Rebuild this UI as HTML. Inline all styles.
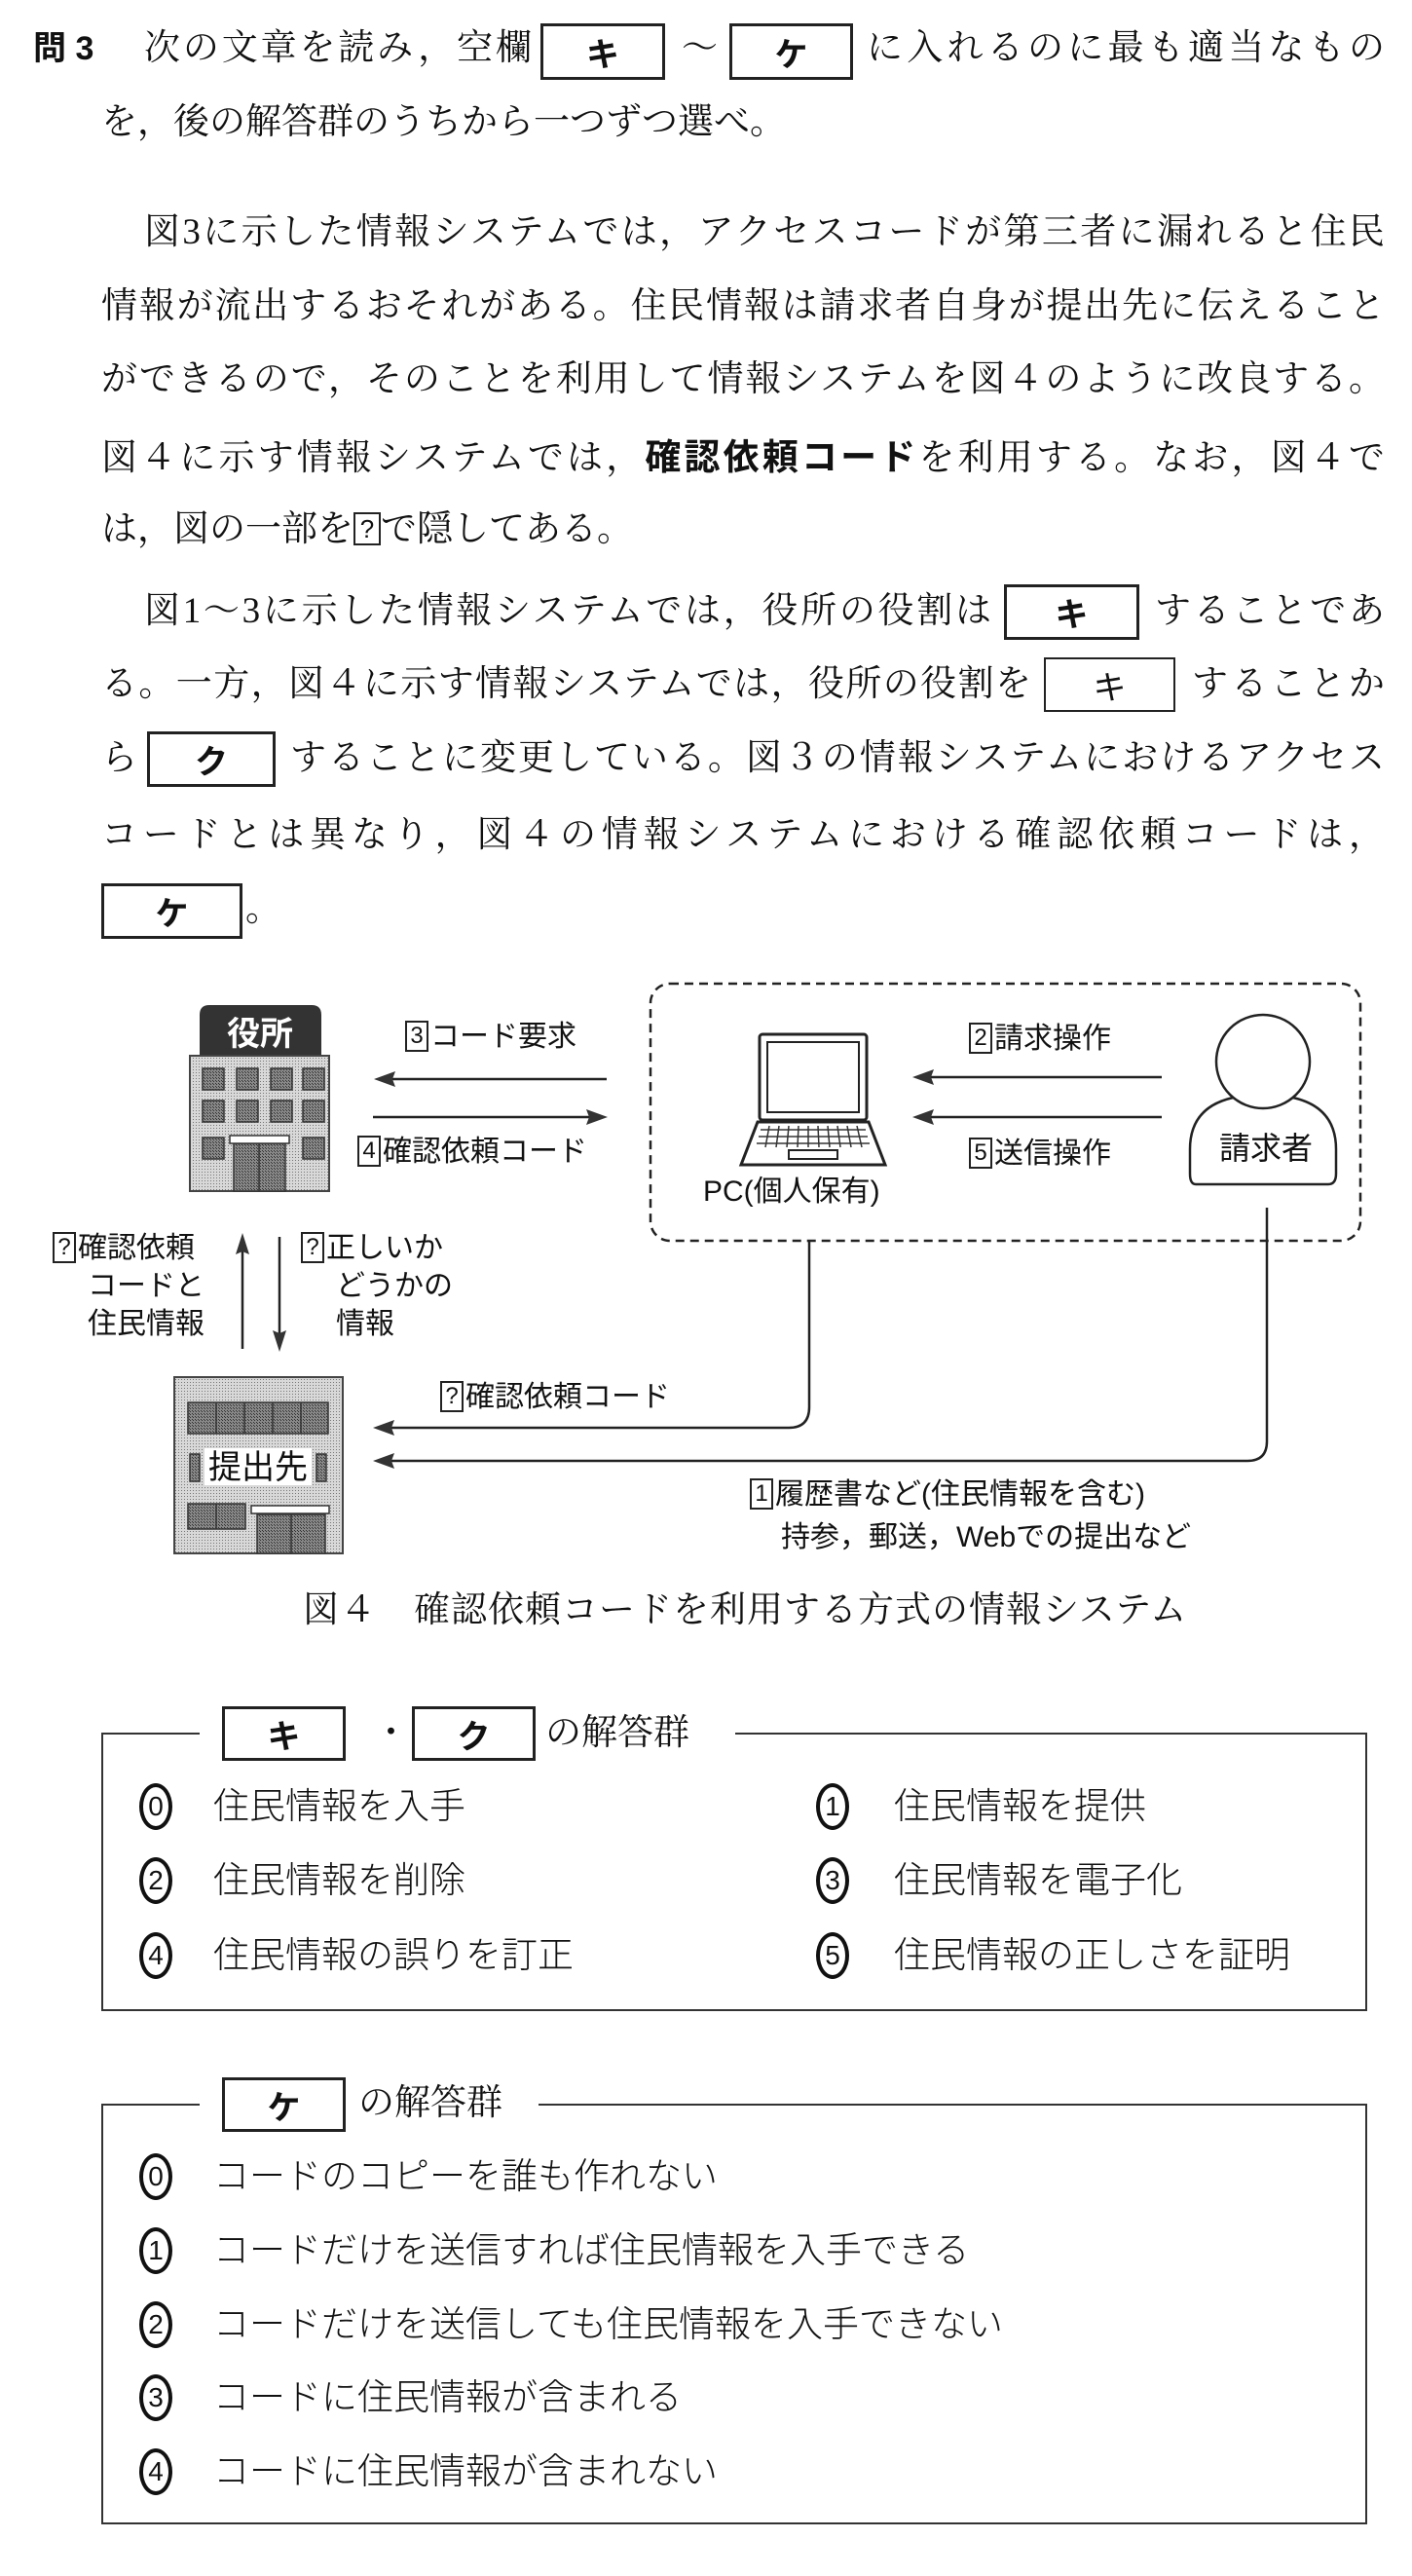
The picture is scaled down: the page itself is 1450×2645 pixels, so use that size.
<!DOCTYPE html>
<html><head><meta charset="utf-8">
<style>
html,body{margin:0;padding:0;background:#fff;}
body{width:1450px;height:2645px;position:relative;overflow:hidden;color:#111;}
.t{position:absolute;font-family:"Liberation Serif","Noto Serif CJK SC",serif;font-size:37px;line-height:44px;white-space:nowrap;}
.j{position:absolute;font-family:"Liberation Serif","Noto Serif CJK SC",serif;font-size:37px;line-height:44px;text-align:justify;text-align-last:justify;height:44px;overflow:visible;}
.g{position:absolute;font-family:"Liberation Sans","Noto Sans CJK JP",sans-serif;font-size:30px;line-height:36px;white-space:nowrap;color:#111;}
.box{position:absolute;border:3px solid #222;box-sizing:border-box;font-family:"Liberation Sans","Noto Sans CJK JP",sans-serif;font-weight:bold;font-size:34px;display:flex;align-items:center;justify-content:center;}
.thin{border-width:2px;font-weight:normal;}
.n{display:inline-block;border:2px solid #222;font-size:24px;line-height:28px;width:20px;text-align:center;margin-right:2px;vertical-align:3px;}
.c{position:absolute;width:34px;height:48px;border:4px solid #111;border-radius:50%;box-sizing:border-box;font-family:"Liberation Sans",sans-serif;font-size:28px;display:flex;align-items:center;justify-content:center;margin-top:-2px;}
.a{position:absolute;font-family:"Liberation Sans","Noto Sans CJK JP",sans-serif;font-size:37px;line-height:44px;white-space:nowrap;font-weight:300;}
</style></head><body>

<div class="t" style="left:34px;top:28px;font-family:'Liberation Sans','Noto Sans CJK JP',sans-serif;font-weight:bold;font-size:34px;">問 3</div>
<div class="j" style="left:148px;top:28px;width:398px;">次の文章を読み，空欄</div>
<div class="box" style="left:555px;top:24px;width:128px;height:58px;">キ</div>
<div class="t" style="left:700px;top:28px;">～</div>
<div class="box" style="left:749px;top:24px;width:127px;height:58px;">ケ</div>
<div class="j" style="left:890px;top:28px;width:532px;">に入れるのに最も適当なもの</div>
<div class="t" style="left:104px;top:104px;">を，後の解答群のうちから一つずつ選べ。</div>

<div class="j" style="left:148px;top:217px;width:1274px;">図3に示した情報システムでは，アクセスコードが第三者に漏れると住民</div>
<div class="j" style="left:104px;top:293px;width:1318px;">情報が流出するおそれがある。住民情報は請求者自身が提出先に伝えること</div>
<div class="j" style="left:104px;top:368px;width:1318px;">ができるので，そのことを利用して情報システムを図４のように改良する。</div>
<div class="j" style="left:104px;top:448px;width:1318px;">図４に示す情報システムでは，<b style="font-family:'Liberation Sans','Noto Sans CJK JP',sans-serif;">確認依頼コード</b>を利用する。なお，図４で</div>
<div class="t" style="left:104px;top:522px;">は，図の一部を<span style="display:inline-block;border:2px solid #222;font-size:26px;line-height:30px;width:24px;text-align:center;vertical-align:3px;font-family:'Liberation Sans',sans-serif;">?</span>で隠してある。</div>

<div class="j" style="left:148px;top:606px;width:870px;">図1～3に示した情報システムでは，役所の役割は</div>
<div class="box" style="left:1031px;top:600px;width:139px;height:57px;">キ</div>
<div class="j" style="left:1186px;top:606px;width:236px;">することであ</div>
<div class="j" style="left:104px;top:681px;width:955px;">る。一方，図４に示す情報システムでは，役所の役割を</div>
<div class="box thin" style="left:1072px;top:675px;width:135px;height:56px;">キ</div>
<div class="j" style="left:1224px;top:681px;width:198px;">することか</div>
<div class="t" style="left:104px;top:757px;">ら</div>
<div class="box" style="left:151px;top:751px;width:132px;height:57px;">ク</div>
<div class="j" style="left:298px;top:757px;width:1124px;">することに変更している。図３の情報システムにおけるアクセス</div>
<div class="j" style="left:104px;top:836px;width:1318px;">コードとは異なり，図４の情報システムにおける確認依頼コードは，</div>
<div class="box" style="left:104px;top:907px;width:145px;height:57px;">ケ</div>
<div class="t" style="left:252px;top:912px;">。</div>

<svg style="position:absolute;left:0;top:0" width="1450" height="2645">
<defs>
<pattern id="dot" width="3" height="3" patternUnits="userSpaceOnUse"><rect width="3" height="3" fill="#d8d8d8"/><rect width="1" height="1" fill="#777"/></pattern>
<pattern id="dk" width="3" height="3" patternUnits="userSpaceOnUse"><rect width="3" height="3" fill="#888"/><rect width="1" height="1" fill="#333"/><rect x="2" y="2" width="1" height="1" fill="#333"/></pattern>
</defs>
<rect x="668" y="1010" width="729" height="264" rx="20" fill="none" stroke="#222" stroke-width="2.5" stroke-dasharray="9,6"/>
<path d="M205,1085 V1042 Q205,1032 215,1032 H320 Q330,1032 330,1042 V1085 Z" fill="#333"/>
<rect x="195" y="1084" width="143" height="139" fill="url(#dot)" stroke="#444" stroke-width="2"/>
<g fill="url(#dk)" stroke="#333" stroke-width="1.5">
<rect x="208" y="1097" width="22" height="22"/><rect x="243" y="1097" width="22" height="22"/><rect x="278" y="1097" width="22" height="22"/><rect x="311" y="1097" width="22" height="22"/>
<rect x="208" y="1130" width="22" height="22"/><rect x="243" y="1130" width="22" height="22"/><rect x="278" y="1130" width="22" height="22"/><rect x="311" y="1130" width="22" height="22"/>
<rect x="208" y="1168" width="22" height="22"/><rect x="311" y="1168" width="22" height="22"/>
<rect x="240" y="1174" width="53" height="49"/><line x1="266" y1="1174" x2="266" y2="1223"/>
</g>
<rect x="236" y="1166" width="61" height="8" fill="#fff" stroke="#333" stroke-width="1.5"/>
<text x="267" y="1073" text-anchor="middle" font-family="Liberation Sans,Noto Sans CJK JP,sans-serif" font-size="34" font-weight="bold" fill="#fff">役所</text>
<rect x="179" y="1414" width="173" height="181" fill="url(#dot)" stroke="#444" stroke-width="2"/>
<g fill="url(#dk)" stroke="#333" stroke-width="1.5">
<rect x="193" y="1440" width="144" height="32"/>
<line x1="222" y1="1440" x2="222" y2="1472"/><line x1="251" y1="1440" x2="251" y2="1472"/><line x1="280" y1="1440" x2="280" y2="1472"/><line x1="309" y1="1440" x2="309" y2="1472"/>
<rect x="195" y="1493" width="10" height="28"/><rect x="325" y="1493" width="10" height="28"/>
<rect x="193" y="1544" width="59" height="26"/><line x1="222" y1="1544" x2="222" y2="1570"/>
<rect x="264" y="1555" width="70" height="40"/><line x1="299" y1="1555" x2="299" y2="1595"/>
</g>
<rect x="210" y="1487" width="110" height="38" fill="#fff"/>
<rect x="258" y="1546" width="80" height="8" fill="#fff" stroke="#333" stroke-width="1.5"/>
<text x="265" y="1518" text-anchor="middle" font-family="Liberation Sans,Noto Sans CJK JP,sans-serif" font-size="34" fill="#111">提出先</text>
<rect x="780" y="1062" width="110" height="88" rx="3" fill="#fff" stroke="#222" stroke-width="3"/>
<rect x="788" y="1070" width="94" height="72" fill="#fff" stroke="#222" stroke-width="2"/>
<path d="M778,1152 H892 L909,1196 H761 Z" fill="#fff" stroke="#222" stroke-width="3"/>
<g stroke="#333" stroke-width="1.5">
<line x1="781" y1="1160" x2="889" y2="1160"/><line x1="779" y1="1167" x2="891" y2="1167"/><line x1="777" y1="1174" x2="893" y2="1174"/>
<line x1="790" y1="1156" x2="786" y2="1178"/><line x1="800" y1="1156" x2="797" y2="1178"/><line x1="810" y1="1156" x2="808" y2="1178"/><line x1="820" y1="1156" x2="819" y2="1178"/><line x1="830" y1="1156" x2="830" y2="1178"/><line x1="840" y1="1156" x2="841" y2="1178"/><line x1="850" y1="1156" x2="852" y2="1178"/><line x1="860" y1="1156" x2="863" y2="1178"/><line x1="870" y1="1156" x2="874" y2="1178"/><line x1="880" y1="1156" x2="885" y2="1178"/>
</g>
<rect x="810" y="1181" width="50" height="9" fill="#fff" stroke="#222" stroke-width="2"/>
<path d="M1228,1216 Q1222,1216 1222,1205 V1180 Q1222,1124 1297,1124 Q1372,1124 1372,1180 V1205 Q1372,1216 1364,1216 Z" fill="#fff" stroke="#222" stroke-width="2.5"/>
<circle cx="1297" cy="1090" r="48" fill="#fff" stroke="#222" stroke-width="2.5"/>
<g stroke="#222" stroke-width="2.5" fill="none">
<line x1="623" y1="1108" x2="400" y2="1108"/>
<line x1="383" y1="1147" x2="606" y2="1147"/>
<line x1="1193" y1="1106" x2="955" y2="1106"/>
<line x1="1193" y1="1147" x2="955" y2="1147"/>
<line x1="249" y1="1385" x2="249" y2="1285"/>
<line x1="287" y1="1270" x2="287" y2="1370"/>
<path d="M831,1274 V1445 Q831,1466 810,1466 H398"/>
<path d="M1301,1240 V1480 Q1301,1500 1281,1500 H398"/>
</g>
<g fill="#333">
<path d="M384,1108 L406,1100 L403,1108 L406,1116 Z"/>
<path d="M624,1147 L602,1139 L605,1147 L602,1155 Z"/>
<path d="M937,1106 L959,1098 L956,1106 L959,1114 Z"/>
<path d="M937,1147 L959,1139 L956,1147 L959,1155 Z"/>
<path d="M249,1266 L242,1288 L249,1285 L256,1288 Z"/>
<path d="M287,1388 L280,1366 L287,1369 L294,1366 Z"/>
<path d="M383,1466 L405,1458 L402,1466 L405,1474 Z"/>
<path d="M383,1500 L405,1492 L402,1500 L405,1508 Z"/>
</g>
</svg>

<div class="g" style="left:416px;top:1047px;"><span class="n">3</span>コード要求</div>
<div class="g" style="left:367px;top:1165px;"><span class="n">4</span>確認依頼コード</div>
<div class="g" style="left:995px;top:1049px;"><span class="n">2</span>請求操作</div>
<div class="g" style="left:995px;top:1167px;"><span class="n">5</span>送信操作</div>
<div class="g" style="left:1252px;top:1161px;font-size:32px;">請求者</div>
<div class="g" style="left:722px;top:1206px;">PC(個人保有)</div>
<div class="g" style="left:54px;top:1264px;"><span class="n">?</span>確認依頼</div>
<div class="g" style="left:90px;top:1303px;">コードと</div>
<div class="g" style="left:90px;top:1342px;">住民情報</div>
<div class="g" style="left:309px;top:1264px;"><span class="n">?</span>正しいか</div>
<div class="g" style="left:345px;top:1303px;">どうかの</div>
<div class="g" style="left:345px;top:1342px;">情報</div>
<div class="g" style="left:452px;top:1417px;"><span class="n">?</span>確認依頼コード</div>
<div class="g" style="left:770px;top:1517px;"><span class="n">1</span>履歴書など(住民情報を含む)</div>
<div class="g" style="left:802px;top:1561px;">持参，郵送，Webでの提出など</div>
<div class="t" style="left:311px;top:1632px;letter-spacing:1px;">図４　確認依頼コードを利用する方式の情報システム</div>

<div style="position:absolute;left:104px;top:1779px;width:1300px;height:286px;border:2px solid #333;box-sizing:border-box;"></div>
<div style="position:absolute;left:205px;top:1770px;width:550px;height:20px;background:#fff;"></div>
<div class="box" style="left:228px;top:1752px;width:127px;height:56px;">キ</div>
<div class="t" style="left:383px;top:1758px;">・</div>
<div class="box" style="left:423px;top:1752px;width:127px;height:56px;">ク</div>
<div class="t" style="left:560px;top:1758px;">の解答群</div>
<div class="c" style="left:143px;top:1833px;">0</div><div class="a" style="left:219px;top:1833px;">住民情報を入手</div>
<div class="c" style="left:838px;top:1833px;">1</div><div class="a" style="left:918px;top:1833px;">住民情報を提供</div>
<div class="c" style="left:143px;top:1909px;">2</div><div class="a" style="left:219px;top:1909px;">住民情報を削除</div>
<div class="c" style="left:838px;top:1909px;">3</div><div class="a" style="left:918px;top:1909px;">住民情報を電子化</div>
<div class="c" style="left:143px;top:1986px;">4</div><div class="a" style="left:219px;top:1986px;">住民情報の誤りを訂正</div>
<div class="c" style="left:838px;top:1986px;">5</div><div class="a" style="left:918px;top:1986px;">住民情報の正しさを証明</div>

<div style="position:absolute;left:104px;top:2160px;width:1300px;height:432px;border:2px solid #333;box-sizing:border-box;"></div>
<div style="position:absolute;left:205px;top:2150px;width:348px;height:20px;background:#fff;"></div>
<div class="box" style="left:228px;top:2133px;width:127px;height:56px;">ケ</div>
<div class="t" style="left:368px;top:2138px;">の解答群</div>
<div class="c" style="left:143px;top:2213px;">0</div><div class="a" style="left:219px;top:2213px;">コードのコピーを誰も作れない</div>
<div class="c" style="left:143px;top:2289px;">1</div><div class="a" style="left:219px;top:2289px;">コードだけを送信すれば住民情報を入手できる</div>
<div class="c" style="left:143px;top:2365px;">2</div><div class="a" style="left:219px;top:2365px;">コードだけを送信しても住民情報を入手できない</div>
<div class="c" style="left:143px;top:2440px;">3</div><div class="a" style="left:219px;top:2440px;">コードに住民情報が含まれる</div>
<div class="c" style="left:143px;top:2516px;">4</div><div class="a" style="left:219px;top:2516px;">コードに住民情報が含まれない</div>
</body></html>
